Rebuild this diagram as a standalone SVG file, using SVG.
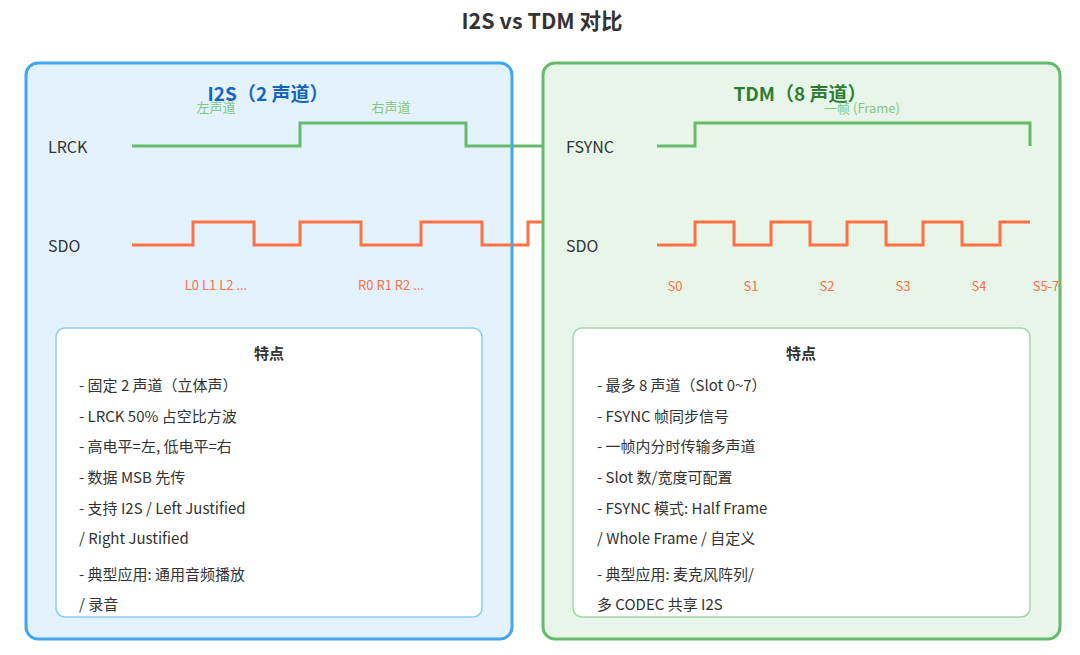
<svg xmlns="http://www.w3.org/2000/svg" width="1080" height="655" viewBox="0 0 1080 655">
<style>
text{font-family:"Noto Sans CJK SC","Noto Sans",sans-serif;}
.t{font-size:21.5px;font-weight:bold;fill:#333;}
.pt{font-size:19px;font-weight:bold;}
.sig{font-size:16px;fill:#333;}
.ann{font-size:13px;fill:#81C784;}
.dl{font-size:13px;fill:#FF7043;}
.ft{font-size:15px;font-weight:bold;fill:#333;}
.fl{font-size:15px;fill:#333;}
.w{fill:none;stroke-width:3;}
.g{stroke:#66BB6A;}
.o{stroke:#FF7043;}
</style>
<text class="t" x="542" y="29" text-anchor="middle">I2S vs TDM 对比</text>
<g id="connectors">
<polyline class="w g" points="132,146 300,146 300,123 466,123 466,146 544,146"/>
<polyline class="w o" points="132,245 193,245 193,222 254,222 254,245 300,245 300,222 361,222 361,245 421,245 421,222 482,222 482,245 528,245 528,222 544,222"/>
</g>
<g id="i2s">
<rect x="26" y="63" width="486" height="576" rx="12" fill="#E3F2FD" stroke="#42A5F5" stroke-width="3"/>
<text class="pt" x="268" y="101" text-anchor="middle" fill="#1565C0">I2S（2 声道）</text>
<text class="ann" x="216" y="112" text-anchor="middle">左声道</text>
<text class="ann" x="391" y="112" text-anchor="middle">右声道</text>
<text class="sig" x="48" y="153">LRCK</text>
<text class="sig" x="48" y="252">SDO</text>
<polyline class="w g" points="132,146 300,146 300,123 466,123 466,146 512,146"/>
<polyline class="w o" points="132,245 193,245 193,222 254,222 254,245 300,245 300,222 361,222 361,245 421,245 421,222 482,222 482,245 512,245"/>
<text class="dl" x="216" y="290" text-anchor="middle">L0 L1 L2 ...</text>
<text class="dl" x="391" y="290" text-anchor="middle">R0 R1 R2 ...</text>
</g>
<g id="i2s-features">
<rect x="56" y="328" width="426" height="289" rx="9" fill="#fff" stroke="#90CAF9" stroke-width="1.5"/>
<text class="ft" x="269" y="359" text-anchor="middle">特点</text>
<text class="fl" x="79" y="391">- 固定 2 声道（立体声）</text>
<text class="fl" x="79" y="422">- LRCK 50% 占空比方波</text>
<text class="fl" x="79" y="452">- 高电平=左, 低电平=右</text>
<text class="fl" x="79" y="483">- 数据 MSB 先传</text>
<text class="fl" x="79" y="514">- 支持 I2S / Left Justified</text>
<text class="fl" x="79" y="544">/ Right Justified</text>
<text class="fl" x="79" y="580">- 典型应用: 通用音频播放</text>
<text class="fl" x="79" y="610">/ 录音</text>
</g>
<g id="tdm">
<rect x="543" y="63" width="517" height="576" rx="12" fill="#E8F5E9" stroke="#66BB6A" stroke-width="3"/>
<text class="pt" x="800" y="101" text-anchor="middle" fill="#2E7D32">TDM（8 声道）</text>
<text class="ann" x="862" y="113" text-anchor="middle">一帧 (Frame)</text>
<text class="sig" x="566" y="153">FSYNC</text>
<text class="sig" x="566" y="252">SDO</text>
<polyline class="w g" points="657,146 695,146 695,123 1030,123 1030,146"/>
<polyline class="w o" points="657,245 695,245 695,222 734,222 734,245 771,245 771,222 810,222 810,245 847,245 847,222 886,222 886,245 923,245 923,222 962,222 962,245 1000,245 1000,222 1030,222"/>
<text class="dl" x="675" y="291" text-anchor="middle">S0</text>
<text class="dl" x="751" y="291" text-anchor="middle">S1</text>
<text class="dl" x="827" y="291" text-anchor="middle">S2</text>
<text class="dl" x="903" y="291" text-anchor="middle">S3</text>
<text class="dl" x="979" y="291" text-anchor="middle">S4</text>
<text class="dl" x="1046" y="291" text-anchor="middle">S5-7</text>
</g>
<g id="tdm-features">
<rect x="573" y="328" width="457" height="289" rx="9" fill="#fff" stroke="#A5D6A7" stroke-width="1.5"/>
<text class="ft" x="801" y="359" text-anchor="middle">特点</text>
<text class="fl" x="597" y="391">- 最多 8 声道（Slot 0~7）</text>
<text class="fl" x="597" y="422">- FSYNC 帧同步信号</text>
<text class="fl" x="597" y="452">- 一帧内分时传输多声道</text>
<text class="fl" x="597" y="483">- Slot 数/宽度可配置</text>
<text class="fl" x="597" y="514">- FSYNC 模式: Half Frame</text>
<text class="fl" x="597" y="544">/ Whole Frame / 自定义</text>
<text class="fl" x="597" y="580">- 典型应用: 麦克风阵列/</text>
<text class="fl" x="597" y="610">多 CODEC 共享 I2S</text>
</g>
</svg>
